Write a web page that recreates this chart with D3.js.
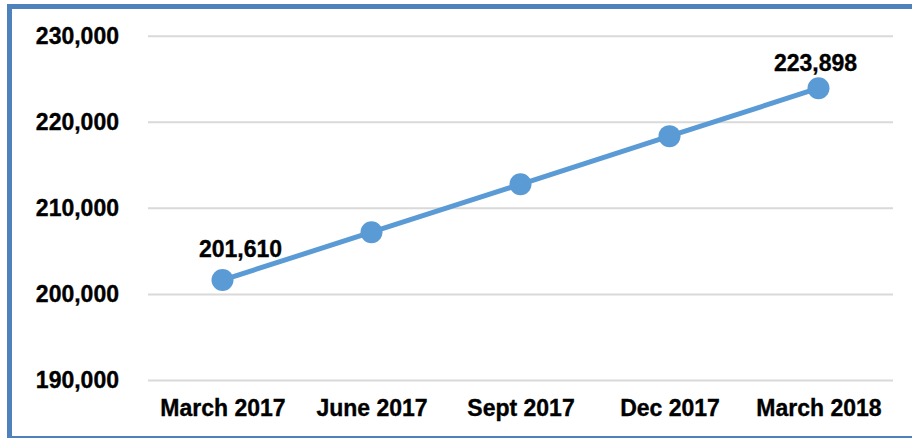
<!DOCTYPE html>
<html>
<head>
<meta charset="utf-8">
<script src="https://cdn.jsdelivr.net/npm/d3@7"></script>
<style>
  body { margin: 0; background: #fff; }
  svg { display: block; font-family: "Liberation Sans", Arial, sans-serif; }
  text { stroke: #000; stroke-width: 0.35px; }
</style>
</head>
<body>
<svg id="chart" width="912" height="438"></svg>
<script>
// data
const quarters = ["March 2017", "June 2017", "Sept 2017", "Dec 2017", "March 2018"];
const totals = [201610, 207170, 212740, 218330, 223898];
const yTicks = [190000, 200000, 210000, 220000, 230000];
const labelled = ["March 2017", "March 2018"];

const svg = d3.select("#chart");

// outer frame, cut off on the right like the source
svg.append("rect")
    .attr("x", 9.5)
    .attr("y", 6.5)
    .attr("width", 930)
    .attr("height", 432)
    .attr("fill", "none")
    .attr("stroke", "#4f81bd")
    .attr("stroke-width", 5);

var x = d3.scalePoint()
    .domain(quarters)
    .range([148, 893])
    .padding(0.5);

var y = d3.scaleLinear()
    .domain([190000, 230000])
    .range([380, 35.7]);

const fmt = d3.format(",");

// gridlines + y labels
svg.append("g")
    .attr("transform", "translate(148,0)")
    .call(d3.axisLeft(y).tickValues(yTicks).tickFormat(fmt).tickSize(-745).tickPadding(29))
    .call((g) => g.select(".domain").remove())
    .call((g) => g.selectAll(".tick line")
        .attr("stroke", "#d9d9d9")
        .attr("stroke-width", 2))
    .call((g) => g.selectAll(".tick text")
        .attr("fill", "#000")
        .attr("font-size", 23)
        .attr("font-weight", "bold")
        .attr("font-family", "Liberation Sans, Arial, sans-serif"));

// x labels
svg.append("g")
    .attr("transform", "translate(0,380)")
    .call(d3.axisBottom(x).tickSize(0).tickPadding(20))
    .call((g) => g.select(".domain").remove())
    .call((g) => g.selectAll(".tick text")
        .attr("fill", "#000")
        .attr("font-size", 23)
        .attr("font-weight", "bold")
        .attr("font-family", "Liberation Sans, Arial, sans-serif"));

const points = quarters.map((q, i) => ({ q: q, v: totals[i] }));

const line = d3.line()
    .x(d => x(d.q))
    .y(d => y(d.v));

svg.append("path")
    .datum(points)
    .attr("d", line)
    .attr("fill", "none")
    .attr("stroke", "#5b9bd5")
    .attr("stroke-width", 5);

svg.selectAll("circle.pt")
    .data(points)
    .enter()
    .append("circle")
        .attr("class", "pt")
        .attr("cx", d => x(d.q))
        .attr("cy", d => y(d.v))
        .attr("r", 11)
        .attr("fill", "#5b9bd5");

// value labels on first and last point
const shift = { "March 2017": [18, -23], "March 2018": [-3, -17] };

svg.selectAll("text.val")
    .data(points.filter(d => labelled.includes(d.q)))
    .enter()
    .append("text")
        .attr("class", "val")
        .attr("x", d => x(d.q) + shift[d.q][0])
        .attr("y", d => y(d.v) + shift[d.q][1])
        .attr("text-anchor", "middle")
        .attr("font-size", 23)
        .attr("font-weight", "bold")
        .attr("fill", "#000")
        .text(d => fmt(d.v));
</script>
</body>
</html>
